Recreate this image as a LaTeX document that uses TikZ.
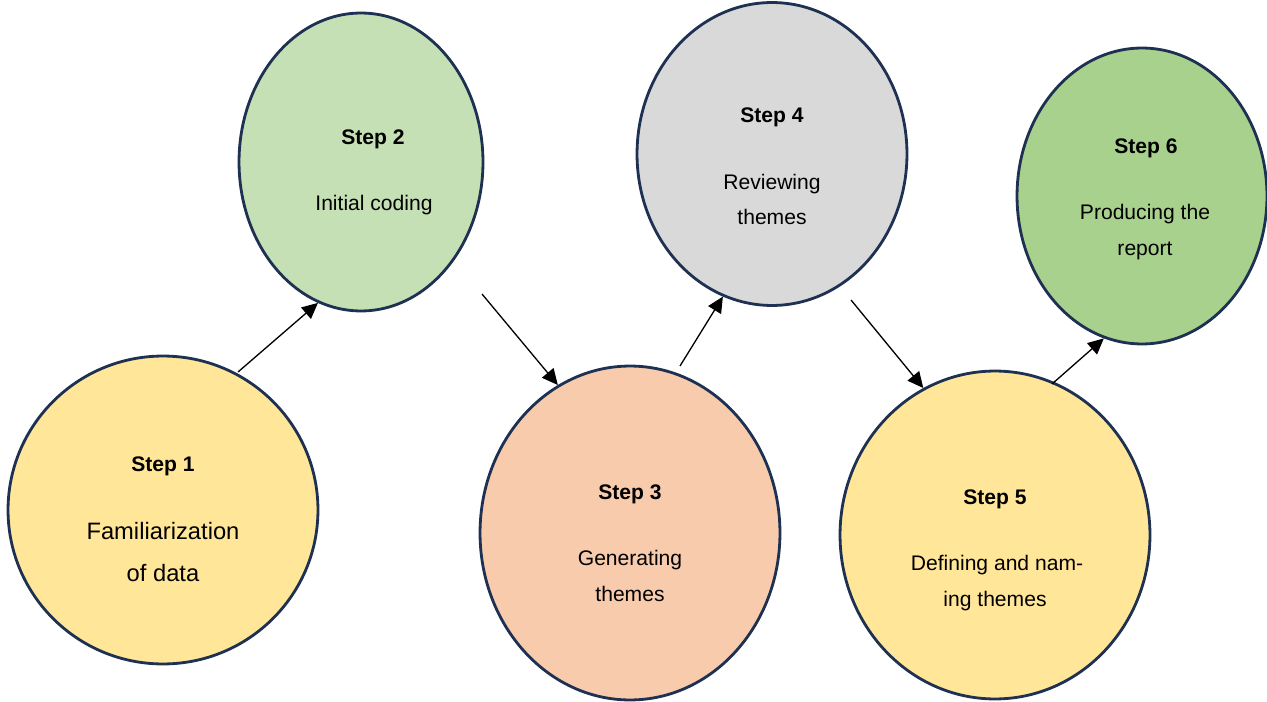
\documentclass[tikz,border=0pt]{standalone}
\usepackage{fontspec}
\setmainfont{Liberation Sans}
\usetikzlibrary{shapes.geometric,arrows.meta}

\definecolor{rimblue}{HTML}{1F3152}
\definecolor{fillyellow}{HTML}{FFE699}
\definecolor{fillgreen}{HTML}{C5E0B4}
\definecolor{fillpeach}{HTML}{F8CBAD}
\definecolor{fillgrey}{HTML}{D9D9D9}
\definecolor{filldarkgreen}{HTML}{A9D18E}

\tikzset{
  stepoval/.style={ellipse, draw=rimblue, line width=1.6pt, inner sep=0pt},
  stephead/.style={anchor=base, font=\fontsize{12}{14}\selectfont\bfseries},
  steptext/.style={anchor=base, font=\fontsize{12}{14}\selectfont},
  flow/.style={-{Triangle[length=9pt,width=8.5pt]}, line width=0.75pt}
}

\begin{document}
\begin{tikzpicture}[x=0.02cm, y=-0.02cm]

\useasboundingbox (0,0) rectangle (1267,702);

% the six phases
\node [stepoval, fill=fillyellow, minimum width=6.2cm, minimum height=6.16cm] (s1) at (163,510) {};
\node [stepoval, fill=fillgreen, minimum width=4.88cm, minimum height=5.96cm] (s2) at (361,162) {};
\node [stepoval, fill=fillpeach, minimum width=6.0cm, minimum height=6.68cm] (s3) at (630,533) {};
\node [stepoval, fill=fillgrey, minimum width=5.4cm, minimum height=6.06cm] (s4) at (772,154) {};
\node [stepoval, fill=fillyellow, minimum width=6.2cm, minimum height=6.56cm] (s5) at (995,535) {};
\node [stepoval, fill=filldarkgreen, minimum width=5.0cm, minimum height=5.92cm] (s6) at (1142,196) {};

\node [stephead] (h1) at (163,471) {Step 1};
\node [steptext, font=\fontsize{13.5}{16}\selectfont] (l1a) at (163,539) {Familiarization};
\node [steptext, font=\fontsize{13.5}{16}\selectfont] (l1b) at (163,581) {of data};

\node [stephead] (h2) at (373,145) {Step 2};
\node [steptext] (l2a) at (374,211) {Initial coding};

\node [stephead] (h3) at (630,499) {Step 3};
\node [steptext] (l3a) at (630,565) {Generating};
\node [steptext] (l3b) at (630,601) {themes};

\node [stephead] (h4) at (772,123) {Step 4};
\node [steptext] (l4a) at (772,190) {Reviewing};
\node [steptext] (l4b) at (772,225) {themes};

\node [stephead] (h5) at (995,504) {Step 5};
\node [steptext] (l5a) at (997,570) {Defining and nam-};
\node [steptext] (l5b) at (995,606) {ing themes};

\node [stephead] (h6) at (1146,154) {Step 6};
\node [steptext] (l6a) at (1145,220) {Producing the};
\node [steptext] (l6b) at (1145,256) {report};

% arrow tails
\coordinate (t1) at (238,372);
\coordinate (t2) at (482,294);
\coordinate (t3) at (680,366);
\coordinate (t4) at (851,300);
\coordinate (t5) at (1052,384);

\draw [flow] (t1) -- (s2.253);
\draw [flow] (t2) -- (s3.116);
\draw [flow] (t3) -- (s4.251);
\draw [flow] (t4) -- (s5.116);
\draw [flow] (t5) -- (s6.255);

\end{tikzpicture}
\end{document}
